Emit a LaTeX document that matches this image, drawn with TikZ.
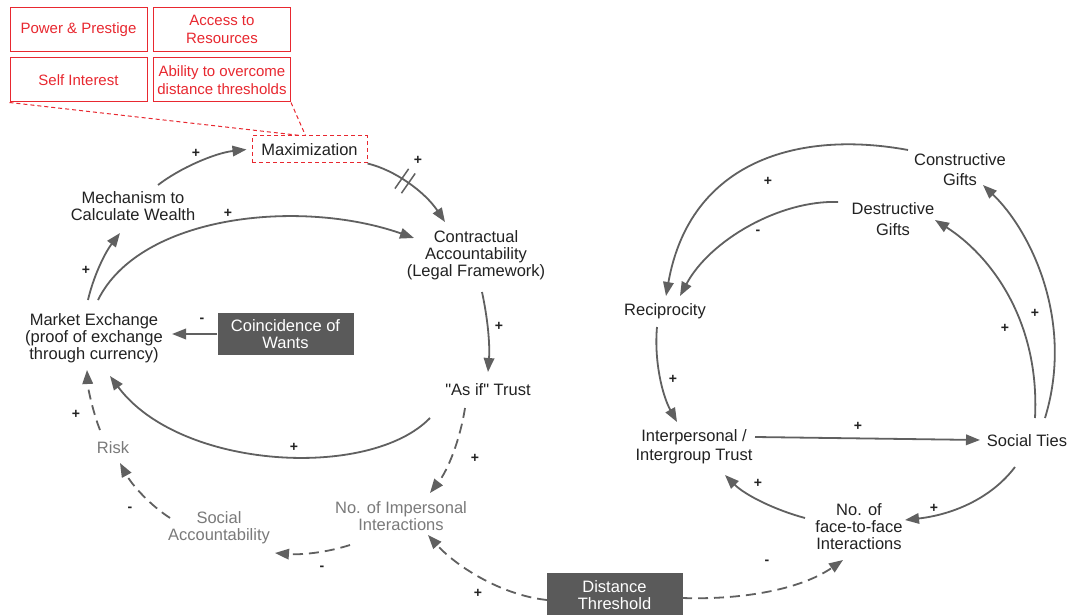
\documentclass[tikz,border=0pt]{standalone}
\usepackage{fontspec}
\setmainfont{Liberation Sans}
\newfontfamily\plainsans{Liberation Sans}
\usetikzlibrary{arrows.meta,calc,decorations.markings}
\definecolor{ink}{HTML}{222222}
\definecolor{softink}{HTML}{7A7A7A}
\definecolor{linkgray}{HTML}{606060}
\definecolor{boxgray}{HTML}{5A5A5A}
\definecolor{redc}{RGB}{232,40,48}
\begin{document}
\begin{tikzpicture}[x=1pt,y=-1pt,
  lbl/.style={font=\fontsize{16.5}{17}\selectfont, text=ink, align=center, inner sep=0pt},
  glbl/.style={lbl, text=softink},
  darkbox/.style={fill=boxgray, text=white, font=\fontsize{16.5}{17}\selectfont, align=center,
                  minimum width=136pt, minimum height=42pt, inner sep=0pt},
  redbox/.style={draw=redc, line width=1pt, text=redc, font=\fontsize{15}{18}\selectfont,
                 align=center, minimum width=137pt, minimum height=44pt, inner sep=0pt},
  link/.style={draw=linkgray, line width=1.8pt, -{Triangle[length=14pt,width=10.5pt]}},
  dlink/.style={link, dash pattern=on 10pt off 6pt},
  sgn/.style={font=\bfseries\fontsize{14}{14}\selectfont, text=ink, inner sep=0pt},
  delay/.style={postaction={decorate, decoration={markings, mark=at position 0.42 with {
      \draw[linkgray, line width=1.5pt, -] (-4,-12) -- (-4,12) (4,-12) -- (4,12);}}}}
]
\useasboundingbox (0,0) rectangle (1071,615);
\fill[white] (0,0) rectangle (1071,615);

% drivers of maximization
\node[redbox] (pp)  at (78.5,29.5) {Power \& Prestige};
\node[redbox] (acc) at (222,29.5) {Access to\\Resources};
\node[redbox] (si)  at (78.5,80) {Self Interest};
\node[redbox] (abl) at (222,80) {Ability to overcome\\distance thresholds};
\node[draw=redc, dash pattern=on 4pt off 3pt, line width=1pt, minimum width=115pt, minimum height=27pt,
      inner sep=0pt, font=\fontsize{16.5}{17}\selectfont, text=ink] (maxb) at (309.5,149.5) {Maximization};
\draw[redc, line width=1pt, dash pattern=on 4pt off 3pt] (si.south west) -- ([xshift=-9pt]maxb.north);
\draw[redc, line width=1pt, dash pattern=on 4pt off 3pt] (abl.south east) -- ([xshift=-4pt]maxb.north);

% market loop
\node[lbl] (mech)  at (133,206) {Mechanism to\\Calculate Wealth};
\node[lbl] (contr) at (476,255) {Contractual\\Accountability\\(Legal Framework)};
\node[lbl] (mkt)   at (94,338) {Market Exchange\\(proof of exchange\\through currency)};
\node[darkbox] (coin) at (285.5,334) {Coincidence of\\Wants};
\node[lbl] (asif)  at (488,390) {\plainsans "As if" Trust};
\node[glbl] (imp)  at (401,516) {No. of Impersonal\\Interactions};
\node[glbl] (sacc) at (219,528) {Social\\Accountability};
\node[glbl] (risk) at (113,448) {Risk};
\node[darkbox, minimum height=44pt] (dist) at (614.5,595) {Distance\\Threshold};

% gift loop
\node[lbl, font=\fontsize{16.5}{20}\selectfont] (cons) at (960,170) {Constructive\\Gifts};
\node[lbl, font=\fontsize{16.5}{21}\selectfont] (dest) at (893,219) {Destructive\\Gifts};
\node[lbl] (recip) at (665,311) {Reciprocity};
\node[lbl, font=\fontsize{16.5}{19}\selectfont] (inter) at (694,447) {Interpersonal /\\Intergroup Trust};
\node[lbl] (ties)  at (1027,441) {Social Ties};
\node[lbl] (f2f)   at (859,527) {No. of\\face-to-face\\Interactions};

% market loop links
\draw[link] ($(mkt)+(-6,-38)$) .. controls (93,278) and (104,254) .. ($(mech)+(-13,27)$);
\draw[link] ($(mech)+(25,-21)$) .. controls (180,168) and (215,153) .. ([xshift=-5pt]maxb.west);
\draw[link, delay] (maxb.south east) .. controls (395,170) and (425,192) .. ($(contr)+(-31,-33)$);
\draw[link] ($(mkt)+(4,-38)$) .. controls (140,215) and (300,198) .. ($(contr)+(-62,-17)$);
\draw[link] (coin.west) -- ($(mkt)+(78,-4)$);
\draw[link] ($(contr)+(6,37)$) .. controls (488,320) and (490,345) .. ($(asif)+(0,-18)$);
\draw[link] ($(asif)+(-58,28)$) .. controls (370,480) and (180,470) .. ($(mkt)+(16,38)$);
\draw[dlink] ($(asif)+(-23,18)$) .. controls (460,440) and (448,470) .. ($(imp)+(29,-23)$);
\draw[dlink] ($(imp)+(-51,29)$) .. controls (325,553) and (300,555) .. ($(sacc)+(56,25)$);
\draw[dlink] ($(sacc)+(-49,-10)$) .. controls (150,505) and (132,485) .. ($(risk)+(7,15)$);
\draw[dlink] ($(risk)+(-13,-18)$) .. controls (94,415) and (88,390) .. ($(mkt)+(-7,32)$);
\draw[dlink] ($(dist)+(-67.5,5)$) .. controls (500,595) and (455,565) .. ($(imp)+(27,19)$);
\draw[dlink] ($(dist)+(67.5,3)$) .. controls (740,600) and (800,590) .. ($(f2f)+(-16,33)$);

% gift loop links
\draw[link] ($(cons)+(-52,-20)$) .. controls (800,130) and (690,160) .. ($(recip)+(1,-15)$);
\draw[link] ($(dest)+(-55,-17)$) .. controls (780,200) and (710,240) .. ($(recip)+(15,-15)$);
\draw[link] ($(recip)+(-8,16)$) .. controls (654,360) and (662,395) .. ($(inter)+(-17,-25)$);
\draw[link] ($(inter)+(61,-10)$) -- ($(ties)+(-47,-1)$);
\draw[link] ($(ties)+(8,-23)$) .. controls (1040,320) and (990,255) .. ($(dest)+(42,1)$);
\draw[link] ($(ties)+(18,-23)$) .. controls (1075,320) and (1030,230) .. ($(cons)+(23,15)$);
\draw[link] ($(ties)+(-12,26)$) .. controls (990,500) and (950,515) .. ($(f2f)+(46,-7)$);
\draw[link] ($(f2f)+(-54,-9)$) .. controls (775,510) and (745,495) .. ($(inter)+(31,28)$);

% polarity signs
\node[sgn] (s1)  at (196,153) {+};
\node[sgn] (s2)  at (418,160) {+};
\node[sgn] (s3)  at (86,270) {+};
\node[sgn] (s4)  at (228,213) {+};
\node[sgn] (s5)  at (202,320) {-};
\node[sgn] (s6)  at (499,326) {+};
\node[sgn] (s7)  at (294,447) {+};
\node[sgn] (s8)  at (475,458) {+};
\node[sgn] (s9)  at (76,414) {+};
\node[sgn] (s10) at (130,509) {-};
\node[sgn] (s11) at (322,568) {-};
\node[sgn] (s12) at (478,593) {+};
\node[sgn] (s13) at (767,562) {-};
\node[sgn] (s14) at (768,181) {+};
\node[sgn] (s15) at (758,232) {-};
\node[sgn] (s16) at (673,379) {+};
\node[sgn] (s17) at (858,426) {+};
\node[sgn] (s18) at (1005,328) {+};
\node[sgn] (s19) at (1035,313) {+};
\node[sgn] (s20) at (934,508) {+};
\node[sgn] (s21) at (758,483) {+};
\end{tikzpicture}
\end{document}
